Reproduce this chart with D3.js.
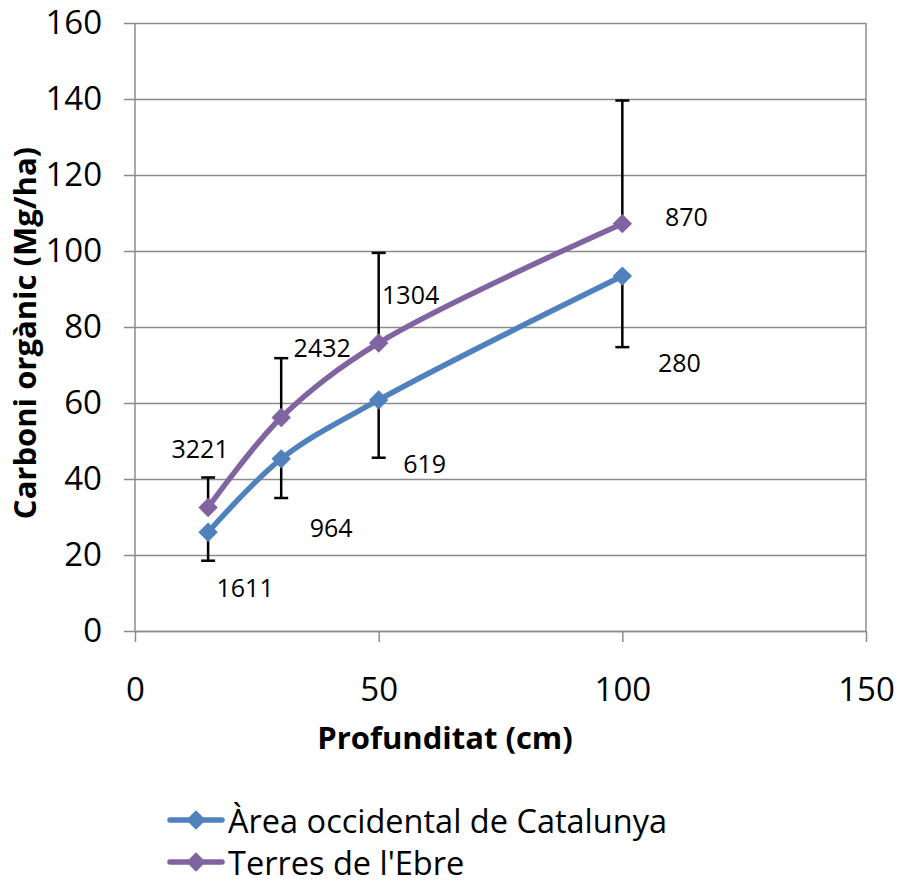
<!DOCTYPE html>
<html>
<head>
<meta charset="utf-8">
<script src="https://cdn.jsdelivr.net/npm/d3@7"></script>
<style>
  body { margin: 0; background: #fff; }
  svg { display: block; font-family: 'Open Sans', 'Noto Sans', sans-serif; }
</style>
</head>
<body>
<div id="chart"></div>
<script>
const depths = [15, 30, 50, 100]
const seriesNames = ['Àrea occidental de Catalunya', "Terres de l'Ebre"]
const occidentalValues = [26, 45.3, 60.8, 93.4]
const ebreValues = [32.5, 56.2, 75.8, 107.2]
const occidentalErrors = [7.5, 10.3, 15.2, 18.7]   // drawn downwards
const ebreErrors = [7.9, 15.6, 23.7, 32.4]        // drawn upwards
const occidentalLabels = ['1611', '964', '619', '280']
const ebreLabels = ['3221', '2432', '1304', '870']
const xTicks = [0, 50, 100, 150]
const yTicks = [0, 20, 40, 60, 80, 100, 120, 140, 160]

const W = 904
const H = 887
const margin = { top: 23, right: 38, bottom: 256, left: 135 }
const innerW = W - margin.left - margin.right
const innerH = H - margin.top - margin.bottom
const FONT = "'Open Sans', 'Noto Sans', sans-serif"

const svg = d3.select('#chart').append('svg')
  .attr('width', W)
  .attr('height', H)

const g = svg.append('g')
  .attr('transform', `translate(${margin.left},${margin.top})`)

const x = d3.scaleLinear().domain([0, 150]).range([0, innerW])
const y = d3.scaleLinear().domain([0, 160]).range([innerH, 0])

// gridlines + y axis
const yAxis = g.append('g')
  .attr('transform', 'translate(-11,0)')
  .call(d3.axisLeft(y).tickValues(yTicks).tickSize(-innerW - 11).tickPadding(22).tickFormat(d3.format('d')))
  .attr('font-family', FONT)
yAxis.select('.domain').remove()
yAxis.selectAll('line').attr('stroke', '#8c8c8c').attr('stroke-width', 1.5)
yAxis.selectAll('text')
  .attr('x', -22)
  .style('font-size', '33px')
  .attr('fill', '#000')

g.append('line')
  .attr('x1', 0).attr('x2', 0).attr('y1', 0).attr('y2', innerH)
  .attr('stroke', '#8c8c8c').attr('stroke-width', 1.5)
g.append('line')
  .attr('x1', innerW).attr('x2', innerW).attr('y1', 0).attr('y2', innerH)
  .attr('stroke', '#8c8c8c').attr('stroke-width', 1.5)

// x axis
const xAxis = g.append('g')
  .attr('transform', `translate(0,${innerH})`)
  .call(d3.axisBottom(x).tickValues(xTicks).tickSize(11).tickPadding(36).tickSizeOuter(0))
  .attr('font-family', FONT)
xAxis.select('.domain').attr('stroke', '#8c8c8c').attr('stroke-width', 1.5)
xAxis.selectAll('line').attr('stroke', '#8c8c8c').attr('stroke-width', 1.5)
xAxis.selectAll('text').style('font-size', '33px').attr('fill', '#000')

// axis titles
svg.append('text')
  .attr('x', 445)
  .attr('y', 749)
  .attr('text-anchor', 'middle')
  .style('font-size', '31px')
  .style('font-weight', 'bold')
  .text('Profunditat (cm)')

svg.append('text')
  .attr('transform', `translate(36,${margin.top + innerH / 2 + 6}) rotate(-90)`)
  .attr('text-anchor', 'middle')
  .style('font-size', '31px')
  .style('font-weight', 'bold')
  .text('Carboni orgànic (Mg/ha)')

const series = [
  { name: seriesNames[0], values: occidentalValues, errors: occidentalErrors, labels: occidentalLabels, color: '#4f81bd', dir: -1 },
  { name: seriesNames[1], values: ebreValues, errors: ebreErrors, labels: ebreLabels, color: '#8064a2', dir: 1 }
]

// label offsets in pixels, relative to each point
const labelOffsets = [
  [[37, 55], [50, 68], [46, 63], [57, 86]],
  [[-8, -60], [41, -70], [32, -49], [64, -8]]
]

const line = d3.line()
  .x((d, i) => x(depths[i]))
  .y(d => y(d))
  .curve(d3.curveCatmullRom.alpha(0.5))

const diamond = d3.symbol().type(d3.symbolDiamond2).size(240)

// error bars first
series.forEach(s => {
  const eb = g.append('g')
  s.values.forEach((v, i) => {
    const px = x(depths[i])
    const y0 = y(v)
    const y1 = y(v + s.dir * s.errors[i])
    eb.append('line')
      .attr('x1', px).attr('x2', px).attr('y1', y0).attr('y2', y1)
      .attr('stroke', '#000').attr('stroke-width', 2.5)
    eb.append('line')
      .attr('x1', px - 7).attr('x2', px + 7).attr('y1', y1).attr('y2', y1)
      .attr('stroke', '#000').attr('stroke-width', 2.5)
  })
})

series.forEach((s, si) => {
  g.append('path')
    .datum(s.values)
    .attr('d', line)
    .attr('fill', 'none')
    .attr('stroke', s.color)
    .attr('stroke-width', 5.5)
    .attr('stroke-linejoin', 'round')

  g.selectAll(null)
    .data(s.values)
    .enter().append('path')
    .attr('d', diamond)
    .attr('transform', (d, i) => `translate(${x(depths[i])},${y(d)})`)
    .attr('fill', s.color)

  g.selectAll(null)
    .data(s.values)
    .enter().append('text')
    .attr('x', (d, i) => x(depths[i]) + labelOffsets[si][i][0])
    .attr('y', (d, i) => y(d) + labelOffsets[si][i][1])
    .attr('text-anchor', 'middle')
    .attr('dominant-baseline', 'central')
    .style('font-size', '25px')
    .text((d, i) => s.labels[i])
})

// legend
const legend = svg.append('g').attr('transform', 'translate(170,820)')
series.forEach((s, i) => {
  const row = legend.append('g').attr('transform', `translate(0,${i * 42})`)
  row.append('line')
    .attr('x1', 0).attr('x2', 52).attr('y1', 0).attr('y2', 0)
    .attr('stroke', s.color).attr('stroke-width', 5.5).attr('stroke-linecap', 'round')
  row.append('path')
    .attr('d', diamond)
    .attr('transform', 'translate(26,0)')
    .attr('fill', s.color)
  row.append('text')
    .attr('x', 58)
    .attr('y', 0)
    .attr('dominant-baseline', 'central')
    .style('font-size', '32.5px')
    .text(s.name)
})
</script>
</body>
</html>
